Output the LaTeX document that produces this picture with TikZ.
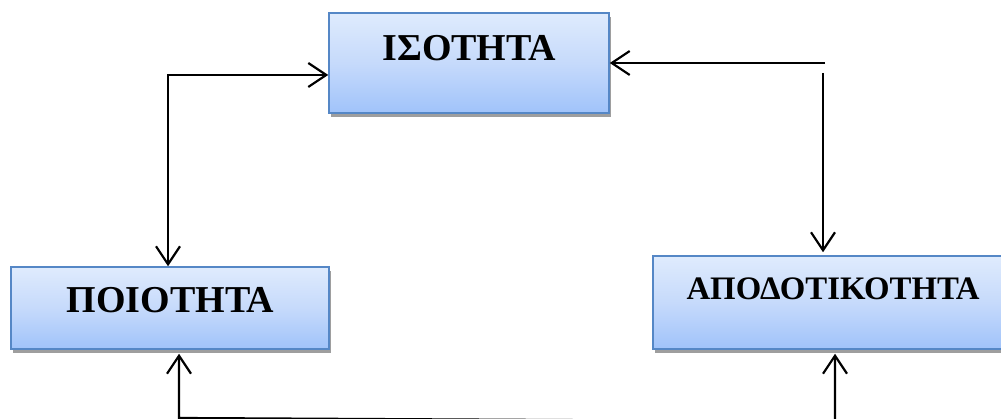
\documentclass[tikz,border=0pt]{standalone}
\usepackage{fontspec}
\setmainfont{Liberation Serif}
\usetikzlibrary{arrows.meta,shadows}
\definecolor{boxtop}{RGB}{223,235,253}
\definecolor{boxmid}{RGB}{198,218,251}
\definecolor{boxbot}{RGB}{160,195,250}
\definecolor{boxline}{RGB}{85,135,198}
\tikzset{
  box/.style={rectangle, draw=boxline, line width=1.5pt, top color=boxtop, bottom color=boxbot, middle color=boxmid,
    drop shadow={shadow xshift=1.5pt, shadow yshift=-4pt, fill=black!38, opacity=1}, inner sep=0pt},
  lbl/.style={anchor=base, inner sep=0pt, font=\bfseries},
  tip/.style={line width=2.2pt, {Straight Barb[length=18pt,width=24pt]}-{Straight Barb[length=18pt,width=24pt]}},
  tipend/.style={line width=2.2pt, -{Straight Barb[length=18pt,width=24pt]}}
}
\begin{document}
\begin{tikzpicture}[x=1pt,y=-1pt]
\useasboundingbox (0,0) rectangle (1001,419);
\clip (0,0) rectangle (1001,419);
% boxes
\node[box, minimum width=280pt, minimum height=100pt] (iso) at (469,63) {};
\node[box, minimum width=318pt, minimum height=82pt] (poi) at (170,308) {};
\node[box, minimum width=350pt, minimum height=93pt] (apo) at (828,302.5) {};
% labels
\node[lbl, font=\bfseries\fontsize{38}{42}\selectfont] (isot) at (469,61) {ΙΣΟΤΗΤΑ};
\node[lbl, font=\bfseries\fontsize{38}{42}\selectfont] (poit) at (170.5,313) {ΠΟΙΟΤΗΤΑ};
\node[lbl, font=\bfseries\fontsize{32.8}{36}\selectfont] (apot) at (833,300) {ΑΠΟΔΟΤΙΚΟΤΗΤΑ};
% connector coordinates
\coordinate (c1) at (168,75);
\coordinate (c2) at (825,63);
\coordinate (c3) at (823,73);
\coordinate (c4) at (179,418);
\coordinate (c5) at (835,421.5);
% connectors
\draw[tip] (c1 |- poi.north) -- (c1) -- (c1 -| iso.west);
\draw[tipend] (c2) -- (c2 -| iso.east);
\draw[tipend, shorten >=3pt] (c3) -- (c3 |- apo.north);
\draw[tip, shorten <=4pt, shorten >=4pt] (c4 |- poi.south) -- (c4) -- (c5) -- (c5 |- apo.south);
\end{tikzpicture}
\end{document}
